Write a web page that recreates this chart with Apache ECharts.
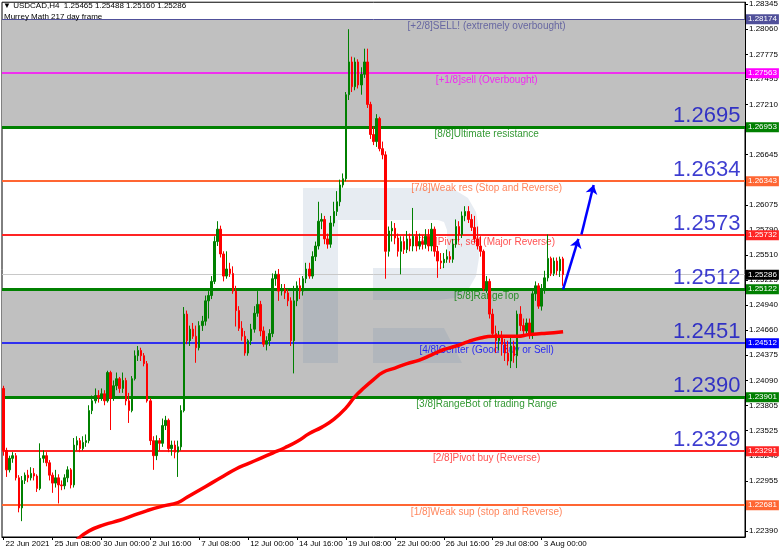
<!DOCTYPE html>
<html><head><meta charset="utf-8">
<script src="https://cdn.jsdelivr.net/npm/echarts@6/dist/echarts.min.js"></script>
<style>html,body{margin:0;padding:0;background:#fff}#c{width:782px;height:552px}</style>
</head><body><div id="c"></div>
<script>
const symbolName = 'USDCAD,H4';
const indicatorName = 'Murrey Math 217 day frame';
// H4 bars: [open, high, low, close]
const bars = [
[1.2400,1.2403,1.2324,1.2330],[1.2330,1.2333,1.2300,1.2308],[1.2308,1.2324,1.2305,1.2321],[1.2321,1.2328,1.2316,1.2324],[1.2324,1.2327,1.2296,1.2299],
[1.2299,1.2302,1.2260,1.2265],[1.2265,1.2301,1.2250,1.2296],[1.2296,1.2305,1.2292,1.2302],[1.2302,1.2308,1.2294,1.2299],[1.2299,1.2311,1.2296,1.2304],
[1.2304,1.2310,1.2296,1.2301],[1.2301,1.2303,1.2283,1.2287],[1.2287,1.2338,1.2285,1.2321],[1.2321,1.2330,1.2316,1.2324],[1.2324,1.2328,1.2312,1.2316],
[1.2316,1.2319,1.2296,1.2302],[1.2302,1.2305,1.2282,1.2293],[1.2293,1.2308,1.2288,1.2299],[1.2299,1.2303,1.2270,1.2291],[1.2291,1.2296,1.2285,1.2290],
[1.2290,1.2303,1.2286,1.2299],[1.2299,1.2312,1.2294,1.2308],[1.2308,1.2310,1.2287,1.2291],[1.2291,1.2344,1.2288,1.2336],[1.2336,1.2346,1.2330,1.2341],
[1.2341,1.2344,1.2328,1.2332],[1.2332,1.2346,1.2330,1.2339],[1.2339,1.2348,1.2334,1.2341],[1.2341,1.2381,1.2338,1.2375],[1.2375,1.2392,1.2371,1.2386],
[1.2386,1.2400,1.2383,1.2392],[1.2392,1.2398,1.2384,1.2390],[1.2390,1.2400,1.2386,1.2394],[1.2394,1.2398,1.2381,1.2386],[1.2386,1.2420,1.2384,1.2418],
[1.2418,1.2420,1.2353,1.2389],[1.2389,1.2409,1.2386,1.2403],[1.2403,1.2418,1.2398,1.2411],[1.2411,1.2413,1.2395,1.2400],[1.2400,1.2418,1.2395,1.2409],
[1.2409,1.2412,1.2381,1.2386],[1.2386,1.2395,1.2361,1.2375],[1.2375,1.2414,1.2373,1.2411],[1.2411,1.2443,1.2409,1.2437],[1.2437,1.2448,1.2431,1.2443],
[1.2443,1.2446,1.2431,1.2437],[1.2437,1.2440,1.2425,1.2428],[1.2428,1.2431,1.2384,1.2386],[1.2386,1.2389,1.2336,1.2341],[1.2341,1.2346,1.2308,1.2324],
[1.2324,1.2347,1.2319,1.2341],[1.2341,1.2344,1.2330,1.2338],[1.2338,1.2366,1.2334,1.2358],[1.2358,1.2369,1.2353,1.2364],[1.2364,1.2366,1.2328,1.2332],
[1.2332,1.2341,1.2324,1.2336],[1.2336,1.2341,1.2321,1.2328],[1.2328,1.2341,1.2300,1.2334],[1.2334,1.2381,1.2330,1.2375],[1.2375,1.2492,1.2373,1.2484],
[1.2484,1.2488,1.2450,1.2454],[1.2454,1.2471,1.2448,1.2467],[1.2467,1.2474,1.2456,1.2459],[1.2459,1.2471,1.2429,1.2446],[1.2446,1.2476,1.2443,1.2471],
[1.2471,1.2482,1.2465,1.2476],[1.2476,1.2505,1.2471,1.2499],[1.2499,1.2510,1.2479,1.2505],[1.2505,1.2527,1.2501,1.2521],[1.2521,1.2572,1.2518,1.2566],
[1.2566,1.2589,1.2561,1.2580],[1.2580,1.2584,1.2548,1.2552],[1.2552,1.2555,1.2521,1.2527],[1.2527,1.2555,1.2524,1.2535],[1.2535,1.2542,1.2526,1.2530],
[1.2530,1.2538,1.2507,1.2510],[1.2510,1.2516,1.2470,1.2488],[1.2488,1.2493,1.2465,1.2468],[1.2468,1.2476,1.2454,1.2459],[1.2459,1.2465,1.2437,1.2440],
[1.2440,1.2456,1.2437,1.2454],[1.2454,1.2473,1.2449,1.2467],[1.2467,1.2493,1.2463,1.2485],[1.2485,1.2510,1.2481,1.2495],[1.2495,1.2499,1.2459,1.2465],
[1.2465,1.2470,1.2447,1.2450],[1.2450,1.2459,1.2443,1.2454],[1.2454,1.2467,1.2448,1.2462],[1.2462,1.2530,1.2458,1.2524],[1.2524,1.2533,1.2516,1.2529],
[1.2529,1.2535,1.2499,1.2510],[1.2510,1.2518,1.2505,1.2512],[1.2512,1.2518,1.2501,1.2508],[1.2508,1.2512,1.2493,1.2499],[1.2499,1.2503,1.2448,1.2454],
[1.2454,1.2516,1.2417,1.2499],[1.2499,1.2521,1.2493,1.2516],[1.2516,1.2525,1.2501,1.2510],[1.2510,1.2527,1.2505,1.2524],[1.2524,1.2542,1.2519,1.2535],
[1.2535,1.2542,1.2524,1.2527],[1.2527,1.2555,1.2524,1.2549],[1.2549,1.2566,1.2544,1.2561],[1.2561,1.2611,1.2557,1.2589],[1.2589,1.2598,1.2580,1.2591],
[1.2591,1.2595,1.2563,1.2569],[1.2569,1.2575,1.2558,1.2563],[1.2563,1.2595,1.2559,1.2587],[1.2587,1.2611,1.2583,1.2600],[1.2600,1.2623,1.2595,1.2611],
[1.2611,1.2636,1.2606,1.2630],[1.2630,1.2643,1.2627,1.2637],[1.2637,1.2735,1.2634,1.2732],[1.2732,1.2806,1.2726,1.2769],[1.2769,1.2775,1.2735,1.2741],
[1.2741,1.2774,1.2737,1.2769],[1.2769,1.2772,1.2739,1.2743],[1.2743,1.2763,1.2732,1.2755],[1.2755,1.2784,1.2751,1.2769],[1.2769,1.2784,1.2717,1.2721],
[1.2721,1.2724,1.2682,1.2687],[1.2687,1.2696,1.2675,1.2679],[1.2679,1.2710,1.2673,1.2705],[1.2705,1.2707,1.2668,1.2671],[1.2671,1.2679,1.2659,1.2664],
[1.2664,1.2668,1.2524,1.2555],[1.2555,1.2583,1.2549,1.2578],[1.2578,1.2589,1.2566,1.2581],[1.2581,1.2587,1.2563,1.2570],[1.2570,1.2575,1.2549,1.2555],
[1.2555,1.2572,1.2529,1.2566],[1.2566,1.2572,1.2552,1.2557],[1.2557,1.2578,1.2553,1.2569],[1.2569,1.2575,1.2555,1.2561],[1.2561,1.2604,1.2555,1.2572],
[1.2572,1.2578,1.2555,1.2561],[1.2561,1.2575,1.2557,1.2566],[1.2566,1.2573,1.2557,1.2563],[1.2563,1.2580,1.2558,1.2572],[1.2572,1.2580,1.2555,1.2561],
[1.2561,1.2587,1.2555,1.2580],[1.2580,1.2583,1.2549,1.2555],[1.2555,1.2561,1.2525,1.2544],[1.2544,1.2553,1.2535,1.2542],[1.2542,1.2553,1.2536,1.2546],
[1.2546,1.2557,1.2542,1.2549],[1.2549,1.2555,1.2542,1.2546],[1.2546,1.2569,1.2542,1.2563],[1.2563,1.2591,1.2559,1.2583],[1.2583,1.2589,1.2566,1.2574],
[1.2574,1.2600,1.2570,1.2595],[1.2595,1.2606,1.2589,1.2600],[1.2600,1.2606,1.2587,1.2591],[1.2591,1.2597,1.2578,1.2582],[1.2582,1.2595,1.2564,1.2569],
[1.2569,1.2583,1.2557,1.2561],[1.2561,1.2572,1.2549,1.2555],[1.2555,1.2557,1.2510,1.2513],[1.2513,1.2527,1.2508,1.2521],[1.2521,1.2524,1.2479,1.2484],
[1.2484,1.2490,1.2457,1.2462],[1.2462,1.2471,1.2440,1.2454],[1.2454,1.2465,1.2443,1.2459],[1.2459,1.2465,1.2437,1.2450],[1.2450,1.2456,1.2431,1.2440],
[1.2440,1.2454,1.2426,1.2431],[1.2431,1.2459,1.2423,1.2448],[1.2448,1.2454,1.2429,1.2437],[1.2437,1.2488,1.2423,1.2484],[1.2484,1.2493,1.2465,1.2471],
[1.2471,1.2479,1.2459,1.2465],[1.2465,1.2479,1.2462,1.2474],[1.2474,1.2479,1.2456,1.2462],[1.2462,1.2510,1.2456,1.2507],[1.2507,1.2521,1.2499,1.2516],
[1.2516,1.2519,1.2490,1.2493],[1.2493,1.2518,1.2488,1.2513],[1.2513,1.2533,1.2507,1.2525],[1.2525,1.2574,1.2521,1.2547],[1.2547,1.2549,1.2527,1.2530],
[1.2530,1.2548,1.2527,1.2544],[1.2544,1.2548,1.2528,1.2533],[1.2533,1.2549,1.2526,1.2546],[1.25465,1.25488,1.25160,1.25286]
];
const totalSlots = 243;
const xTickEvery = 16;
const xTickLabels = ['22 Jun 2021','25 Jun 08:00','30 Jun 00:00','2 Jul 16:00','7 Jul 08:00','12 Jul 00:00','14 Jul 16:00','19 Jul 08:00','22 Jul 00:00','26 Jul 16:00','29 Jul 08:00','3 Aug 00:00'];
const yTickLabels = ['1.22390','1.22675','1.22955','1.23240','1.23525','1.23805','1.24090','1.24375','1.24660','1.24940','1.25225','1.25510','1.25790','1.26075','1.26360','1.26645','1.26925','1.27210','1.27495','1.27775','1.28060','1.28345'];
const yMin = 1.22321, yMax = 1.28365;
const levels = [1.28174,1.27563,1.26953,1.26343,1.25732,1.25122,1.24512,1.23901,1.23291,1.22681];
const levelNames = ['[+2/8]SELL! (extremely overbought)','[+1/8]sell (Overbought)','[8/8]Ultimate resistance','[7/8]Weak res (Stop and Reverse)','[6/8]Pivot, sell (Major Reverse)','[5/8]RangeTop','[4/8]Center (Good Buy or Sell)','[3/8]RangeBot of trading Range','[2/8]Pivot buy (Reverse)','[1/8]Weak sup (stop and Reverse)'];
const levelColors = ['#50509a','#ff00ff','#008000','#ff6633','#ff2424','#008000','#0000ff','#008000','#ff2424','#ff6633'];
const levelWidths = [1,1.5,3,2,2,3,1.5,3,2,2];
const bandPairs = [[1.28174,1.26953],[1.25122,1.23901]];
const bigLabels = ['1.2695','1.2634','1.2573','1.2512','1.2451','1.2390','1.2329'];
const bigLabelLevels = [1.26953,1.26343,1.25732,1.25122,1.24512,1.23901,1.23291];
const bigLabelSlot = 241;
const currentPrice = 1.25286;
const levelLabelSlot = 158;
// moving average (red curve) sampled at bar indices
const maPoints = [[24,1.2229],[28,1.2239],[33,1.2246],[38,1.2251],[42,1.2256],[47,1.2262],[52,1.2267],[57,1.2271],[60,1.2277],[64,1.2285],[68,1.2293],[72,1.2301],[76,1.2309],[80,1.2315],[84,1.2321],[88,1.2327],[92,1.2333],[96,1.2340],[100,1.2349],[104,1.2356],[108,1.2365],[112,1.2378],[115,1.2391],[118,1.2401],[121,1.2410],[124,1.2418],[128,1.2423],[132,1.2428],[136,1.2432],[140,1.2438],[144,1.2444],[148,1.2448],[152,1.2453],[156,1.2457],[160,1.2459],[164,1.2459],[168,1.2459],[172,1.2461],[176,1.2462],[180,1.2463],[183,1.2464]];
const arrows = [[[183,1.2512],[188,1.2569]],[[189,1.2574],[193,1.2630]]];

const yTickValues = yTickLabels.map(Number);
const last = bars[bars.length-1];
const chart = echarts.init(document.getElementById('c'));
const FF = 'Liberation Sans, Arial, sans-serif';
const R = 'rgba(95,125,165,0.15)';
const boxLabel = (txt, bg) => ({show: true, position: 'end', distance: 1, formatter: txt, color: '#fff', backgroundColor: bg, padding: [1,2,1,2], fontSize: 8, fontFamily: FF});
chart.setOption({
  animation: false,
  backgroundColor: '#fff',
  grid: {left: 2, right: 37, top: 0, bottom: 15, show: true, borderColor: '#000', borderWidth: 1},
  xAxis: {
    type: 'category', data: Array.from({length: totalSlots}, (_, i) => i), boundaryGap: true,
    axisLine: {show: true, lineStyle: {color: '#000'}},
    axisTick: {show: true, alignWithLabel: true, length: 3, interval: i => i % xTickEvery === 0 && i / xTickEvery < xTickLabels.length, lineStyle: {color: '#000'}},
    axisLabel: {interval: i => i % xTickEvery === 0 && i / xTickEvery < xTickLabels.length, formatter: (v, i) => xTickLabels[i / xTickEvery] || '', align: 'left', fontSize: 8, color: '#000', margin: 3, padding: [0,0,0,2], fontFamily: FF},
    splitLine: {show: false}
  },
  yAxis: {
    type: 'value', position: 'right', min: yMin, max: yMax, scale: true,
    axisLine: {show: true, lineStyle: {color: '#000'}},
    axisTick: {show: true, length: 3, customValues: yTickValues, lineStyle: {color: '#000'}},
    axisLabel: {customValues: yTickValues, formatter: v => { const k = yTickValues.findIndex(t => Math.abs(t - v) < 1e-7); return k >= 0 ? yTickLabels[k] : ''; }, fontSize: 8, color: '#000', margin: 4, fontFamily: FF},
    splitLine: {show: false}
  },
  graphic: [
    {type: 'text', left: 3, top: 2, z: 20, style: {text: '\u25BC ' + symbolName + '  ' + last.map(v => v.toFixed(5)).join(' '), font: '8px ' + FF, fill: '#000'}},
    {type: 'text', left: 4, top: 13, z: 20, style: {text: indicatorName, font: '8px ' + FF, fill: '#000'}},
    {type: 'rect', z: 3, silent: true, shape: {x: 303, y: 188, width: 35, height: 175}, style: {fill: R}},
    {type: 'rect', z: 3, silent: true, shape: {x: 338, y: 188, width: 100, height: 32}, style: {fill: R}},
    {type: 'polygon', z: 3, silent: true, shape: {points: [[438,188],[455,190],[468,198],[476,212],[479,230],[479,258],[476,276],[468,290],[455,298],[438,300],[438,268],[444,266],[447,258],[447,230],[444,222],[438,220]]}, style: {fill: R}},
    {type: 'rect', z: 3, silent: true, shape: {x: 373, y: 268, width: 65, height: 32}, style: {fill: R}},
    {type: 'polygon', z: 3, silent: true, shape: {points: [[373,328],[444,328],[462,363],[373,363]]}, style: {fill: R}}
  ],
  series: [
    {type: 'custom', name: 'bands', z: 1, silent: true,
      data: bandPairs.map(p => [0, p[0], p[1]]),
      encode: {x: 0, y: [1, 2]},
      renderItem: (params, api) => {
        const cs = params.coordSys;
        const y1 = api.coord([0, api.value(1)])[1];
        const y2 = api.coord([0, api.value(2)])[1];
        return {type: 'rect', shape: {x: cs.x, y: Math.min(y1, y2), width: cs.width, height: Math.abs(y2 - y1)}, style: {fill: '#c0c0c0'}};
      }},
    {type: 'scatter', name: 'levelNames', z: 3, silent: true, symbolSize: 0,
      data: levels.map((v, i) => ({value: [levelLabelSlot, v], label: {color: levelColors[i]}})),
      label: {show: true, position: 'bottom', distance: 2, fontSize: 10, fontFamily: FF, formatter: p => levelNames[p.dataIndex]}},
    {type: 'candlestick', name: 'USDCAD', z: 5, barWidth: 2,
      data: bars.map(b => [b[0], b[3], b[2], b[1]]),
      itemStyle: {color: '#008000', color0: '#ff0000', borderColor: '#008000', borderColor0: '#ff0000', borderWidth: 1}},
    {type: 'scatter', name: 'levels', z: 6, silent: true, symbolSize: 0,
      data: levels.map(v => [0, v]),
      markLine: {silent: true, symbol: 'none', animation: false, precision: 5,
        data: levels.map((v, i) => ({yAxis: v, lineStyle: {color: levelColors[i], width: levelWidths[i], type: 'solid'}, label: boxLabel(v.toFixed(5), levelColors[i])}))
          .concat([{yAxis: currentPrice, lineStyle: {color: '#c8c8c8', width: 1, type: 'solid'}, label: boxLabel(currentPrice.toFixed(5), '#000')}])}},
    {type: 'line', name: 'MA', z: 7, data: maPoints, showSymbol: false, smooth: true, clip: true,
      lineStyle: {color: '#ff0000', width: 3.5}},
    {type: 'scatter', name: 'bigLabels', z: 8, silent: true, symbolSize: 0,
      data: bigLabelLevels.map(v => [bigLabelSlot, v]),
      label: {show: true, position: 'top', align: 'right', distance: 0, formatter: p => bigLabels[p.dataIndex], color: '#0c0cc4', fontSize: 22, fontFamily: FF}},
    {type: 'scatter', name: 'arrows', z: 9, silent: true, symbolSize: 0,
      data: arrows.map(a => a[0]),
      markLine: {silent: true, symbol: ['none', 'arrow'], symbolSize: 9, animation: false, precision: 5,
        lineStyle: {color: '#0000ff', width: 2.5, type: 'solid'}, label: {show: false},
        data: arrows.map(a => [{coord: a[0]}, {coord: a[1]}])}}
  ]
});
</script></body></html>
